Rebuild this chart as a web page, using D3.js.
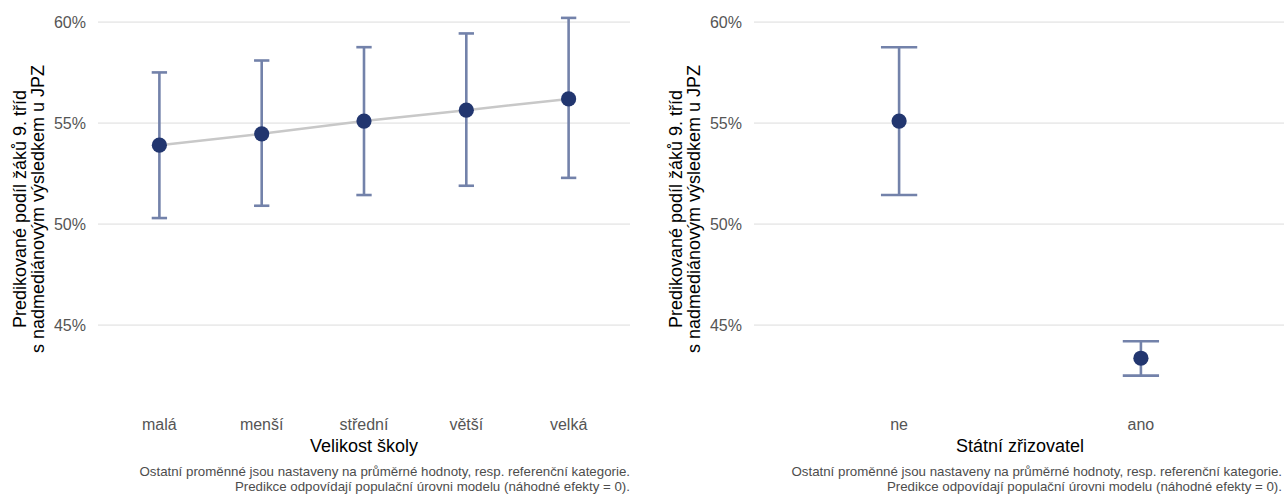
<!DOCTYPE html>
<html>
<head>
<meta charset="utf-8">
<script src="https://cdn.jsdelivr.net/npm/d3@7"></script>
<style>
  html, body { margin: 0; padding: 0; background: #fff; overflow: hidden; }
  svg { display: block; font-family: "Liberation Sans", Arial, sans-serif; }
</style>
</head>
<body>
<svg id="chart" width="1284" height="495"></svg>
<script>
// Predicted share of 9th-grade pupils above the median in the entrance exam
const sizeCategories = ["malá", "menší", "střední", "větší", "velká"];
const sizeEstimate = [53.91, 54.47, 55.10, 55.64, 56.20];
const sizeLower    = [50.30, 50.91, 51.44, 51.90, 52.29];
const sizeUpper    = [57.51, 58.10, 58.76, 59.44, 60.21];

const founderCategories = ["ne", "ano"];
const founderEstimate = [55.10, 43.36];
const founderLower    = [51.44, 42.50];
const founderUpper    = [58.76, 44.20];

const yTicks = [45, 50, 55, 60];
const yTitleLines = ["Predikované podíl žáků 9. tříd", "s nadmediánovým výsledkem u JPZ"];
const captionLines = [
  "Ostatní proměnné jsou nastaveny na průměrné hodnoty, resp. referenční kategorie.",
  "Predikce odpovídají populační úrovni modelu (náhodné efekty = 0)."
];

const svg = d3.select("#chart");
const svgWidth = 1284;

// shared y scale across both panels (data range + 5 % expansion)
const allLow = d3.min(sizeLower.concat(founderLower));
const allHigh = d3.max(sizeUpper.concat(founderUpper));
const pad = (allHigh - allLow) * 0.05;
const y = d3.scaleLinear().domain([allLow - pad, allHigh + pad]).range([393.5, 0]);

const panelWidth = 532;
const navy = "#22366f";
const barColor = "#7382aa";

function drawPanel(offsetX, categories, est, lo, hi, xTitle, connect) {
  const x0 = offsetX + 98, x1 = x0 + panelWidth;
  const g = svg.append("g");
  const x = d3.scalePoint().domain(categories).range([x0, x1]).padding(0.6);
  const step = x.step();

  // horizontal gridlines
  g.selectAll("line.grid").data(yTicks).join("line")
    .attr("x1", x0).attr("x2", x1)
    .attr("y1", d => y(d)).attr("y2", d => y(d))
    .attr("stroke", "#ebebeb").attr("stroke-width", 1.6);

  // y tick labels
  g.selectAll("text.ytick").data(yTicks).join("text")
    .attr("x", x0 - 12).attr("y", d => y(d))
    .attr("text-anchor", "end").attr("dominant-baseline", "central")
    .attr("font-size", 16).attr("fill", "#555")
    .text(d => d3.format(".0f")(d) + "%");

  const rows = categories.map((c, i) => ({ c, est: est[i], lo: lo[i], hi: hi[i] }));

  if (connect) {
    g.append("path")
      .datum(rows)
      .attr("d", d3.line().x(d => x(d.c)).y(d => y(d.est)))
      .attr("fill", "none").attr("stroke", "#c8c8c8").attr("stroke-width", 2.5);
  }

  const capHalf = step * 0.075;
  const eb = g.selectAll("g.eb").data(rows).join("g");
  eb.append("line")
    .attr("x1", d => x(d.c)).attr("x2", d => x(d.c))
    .attr("y1", d => y(d.lo)).attr("y2", d => y(d.hi))
    .attr("stroke", barColor).attr("stroke-width", 2.6);
  ["lo", "hi"].forEach(k => {
    eb.append("line")
      .attr("x1", d => x(d.c) - capHalf).attr("x2", d => x(d.c) + capHalf)
      .attr("y1", d => y(d[k])).attr("y2", d => y(d[k]))
      .attr("stroke", barColor).attr("stroke-width", 2.6);
  });
  eb.append("circle")
    .attr("cx", d => x(d.c)).attr("cy", d => y(d.est))
    .attr("r", 7.6).attr("fill", navy);

  // x tick labels
  g.selectAll("text.xtick").data(categories).join("text")
    .attr("x", d => x(d)).attr("y", 430)
    .attr("text-anchor", "middle").attr("font-size", 16).attr("fill", "#555")
    .text(d => d);

  // x axis title
  g.append("text")
    .attr("x", (x0 + x1) / 2).attr("y", 452)
    .attr("text-anchor", "middle").attr("font-size", 18).attr("fill", "#000")
    .text(xTitle);

  // y axis title (two lines)
  const yc = 209;
  yTitleLines.forEach((line, i) => {
    const bx = offsetX + 26 + i * 18;
    g.append("text")
      .attr("transform", `translate(${bx},${yc}) rotate(-90)`)
      .attr("text-anchor", "middle").attr("font-size", 18).attr("fill", "#000")
      .text(line);
  });

  // caption, kept inside the drawing area
  const capX = Math.min(x1, svgWidth - 2);
  captionLines.forEach((line, i) => {
    g.append("text")
      .attr("x", capX).attr("y", 476 + i * 15)
      .attr("text-anchor", "end").attr("font-size", 13.3).attr("fill", "#4d4d4d")
      .text(line);
  });
}

drawPanel(0, sizeCategories, sizeEstimate, sizeLower, sizeUpper, "Velikost školy", true);
drawPanel(656, founderCategories, founderEstimate, founderLower, founderUpper, "Státní zřizovatel", false);
</script>
</body>
</html>
